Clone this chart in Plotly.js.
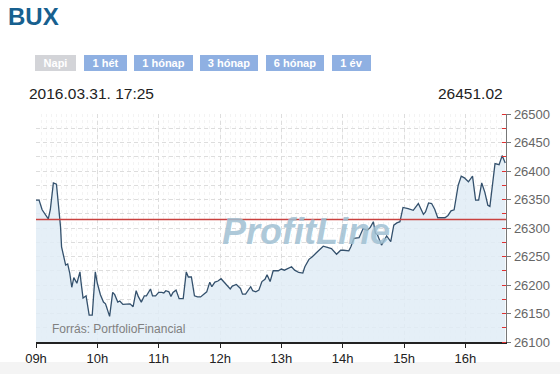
<!DOCTYPE html>
<html>
<head>
<meta charset="utf-8">
<script src="https://cdn.plot.ly/plotly-3.0.1.min.js"></script>
<style>html,body{margin:0;padding:0;background:#fff;}#chart{width:560px;height:374px;}</style>
</head>
<body>
<div id="chart"></div>
<script>
// ---- data ----
var chartDay = '2016-03-31';
var times = ['09:00','09:03','09:06','09:10','09:12','09:14','09:17','09:20','09:22','09:24','09:25','09:27','09:29','09:31','09:33','09:35','09:37','09:40','09:43','09:44','09:46','09:49','09:51','09:52','09:55','09:58',
'10:00','10:03','10:06','10:08','10:10','10:12','10:15','10:17','10:20','10:22','10:25','10:29','10:32','10:35','10:38','10:40','10:43','10:46','10:48','10:52','10:54','10:57',
'11:00','11:03','11:05','11:07','11:10','11:12','11:14','11:17','11:20','11:24','11:27','11:29','11:32','11:35','11:38','11:41','11:44','11:47','11:50','11:52','11:55','11:58',
'12:01','12:04','12:07','12:10','12:12','12:16','12:20','12:22','12:25','12:30','12:32','12:35','12:38','12:41','12:44','12:46','12:49','12:52','12:57',
'13:00','13:03','13:06','13:10','13:13','13:17','13:21','13:23','13:27','13:30','13:34','13:37','13:41','13:45','13:49','13:54','13:58',
'14:01','14:06','14:08','14:11','14:16','14:20','14:24','14:27','14:30','14:32','14:34','14:38','14:43','14:47','14:50','14:53','14:56','14:59',
'15:04','15:09','15:14','15:19','15:21','15:24','15:27','15:30','15:33','15:40','15:43','15:46','15:49','15:53','15:56','15:59',
'16:03','16:07','16:10','16:13','16:16','16:19','16:22','16:24','16:29','16:33','16:36','16:39'];
var values = [26349,26349,26332,26320,26316,26332,26379,26377,26343,26302,26267,26249,26235,26237,26221,26196,26213,26203,26223,26206,26177,26181,26161,26147,26147,26223,
26203,26183,26170,26167,26156,26145,26187,26183,26170,26172,26166,26166,26167,26162,26190,26180,26170,26181,26181,26193,26181,26181,
26187,26187,26186,26190,26188,26180,26187,26191,26176,26176,26223,26214,26214,26181,26179,26179,26183,26188,26205,26197,26205,26207,
26211,26205,26199,26193,26198,26201,26194,26184,26184,26197,26190,26188,26191,26206,26210,26218,26206,26225,26225,
26228,26226,26228,26232,26226,26222,26221,26232,26245,26249,26256,26261,26268,26266,26264,26254,26261,
26261,26260,26267,26282,26283,26299,26296,26301,26311,26291,26288,26270,26286,26276,26305,26309,26311,26336,
26334,26331,26343,26324,26328,26344,26343,26333,26318,26318,26322,26330,26332,26375,26391,26388,
26381,26391,26349,26349,26379,26363,26340,26338,26413,26411,26427,26414];
var prevClose = 26315;
var yTicks = [26100,26150,26200,26250,26300,26350,26400,26450,26500];
var yTickLabels = ['26100','26150','26200','26250','26300','26350','26400','26450','26500'];
var hourTicks = ['09:00','10:00','11:00','12:00','13:00','14:00','15:00','16:00'];
var hourLabels = ['09h','10h','11h','12h','13h','14h','15h','16h'];
var indexName = 'BUX';
var stampText = '2016.03.31. 17:25';
var lastValueText = '26451.02';
var buttons = ['Napi','1 hét','1 hónap','3 hónap','6 hónap','1 év'];
var sourceText = 'Forrás: PortfolioFinancial';
var watermark = 'ProfitLine';

// ---- layout helpers (pixel -> paper) ----
var M = {l:36, r:54, t:114, b:32};
var PW = 560 - M.l - M.r, PH = 374 - M.t - M.b;
function px(x){ return (x - M.l) / PW; }
function py(y){ return (374 - M.b - y) / PH; }

var xs = times.map(function(t){ return chartDay + ' ' + t; });

var trace = {
  x: xs, y: values, type: 'scatter', mode: 'lines',
  line: {color: '#34516d', width: 1.3},
  fill: 'tozeroy', fillcolor: 'rgba(225,236,246,0.85)',
  hoverinfo: 'skip'
};

var btnBoxes = [[35,76],[84,127],[134,193],[200,258],[266,324],[332,371]];
var annotations = [
  {xref:'paper', yref:'paper', x:px(6), y:py(16), xanchor:'left', yanchor:'middle', showarrow:false,
   text:'<b>'+indexName+'</b>', font:{family:'Liberation Sans, Arial', size:24, color:'#17608f'}},
  {xref:'paper', yref:'paper', x:px(27), y:py(93), xanchor:'left', yanchor:'middle', showarrow:false,
   text:stampText, font:{family:'Liberation Sans, Arial', size:15.5, color:'#222'}},
  {xref:'paper', yref:'paper', x:px(505), y:py(93), xanchor:'right', yanchor:'middle', showarrow:false,
   text:lastValueText, font:{family:'Liberation Sans, Arial', size:15.5, color:'#222'}},
  {xref:'paper', yref:'paper', x:px(306), y:py(231), xanchor:'center', yanchor:'middle', showarrow:false,
   text:'<b><i>'+watermark+'</i></b>', font:{family:'Liberation Sans, Arial', size:36, color:'rgba(160,192,210,0.85)'}},
  {xref:'paper', yref:'paper', x:px(50), y:py(328.5), xanchor:'left', yanchor:'middle', showarrow:false,
   text:sourceText, font:{family:'Liberation Sans, Arial', size:12, color:'#808080'}}
];
buttons.forEach(function(b, i){
  var x0 = btnBoxes[i][0], x1 = btnBoxes[i][1];
  annotations.push({xref:'paper', yref:'paper', x:px((x0+x1)/2), y:py(63.5), xanchor:'center', yanchor:'middle',
    showarrow:false, width:(x1-x0), height:16, borderpad:0, borderwidth:0,
    bgcolor: i===0 ? '#d3d4d8' : '#8fb0e2',
    text:'<b>'+b+'</b>', font:{family:'Liberation Sans, Arial', size:11, color:'#ffffff'}});
});

var shapes = [
  {type:'rect', xref:'paper', yref:'paper', x0:px(0), x1:px(560), y0:py(362), y1:py(374), fillcolor:'#f4f4f4', line:{width:0}, layer:'below'},
  {type:'line', xref:'paper', yref:'y', x0:0, x1:1, y0:prevClose, y1:prevClose, line:{color:'#c9413f', width:1.4}, layer:'above'}
];

var layout = {
  width:560, height:374, margin:M, showlegend:false,
  paper_bgcolor:'#ffffff', plot_bgcolor:'#ffffff',
  font:{family:'Liberation Sans, Arial', size:13, color:'#222'},
  xaxis:{type:'date', range:[chartDay+' 09:00', chartDay+' 16:39:45'],
    tickmode:'array', tickvals:hourTicks.map(function(t){return chartDay+' '+t;}), ticktext:hourLabels,
    showgrid:true, gridcolor:'#dddddd', griddash:'4px,3px', gridwidth:1,
    showline:true, linecolor:'#222', linewidth:1.5, ticks:'outside', ticklen:4, tickcolor:'#222',
    tickfont:{size:13, color:'#222'}, zeroline:false, fixedrange:true,
    minor:{dtick:300000, tick0:chartDay+' 09:00', showgrid:true, gridcolor:'#f3f3f3', griddash:'3px,3px', ticks:''}},
  yaxis:{side:'right', range:[26100,26500], tickmode:'array', tickvals:yTicks, ticktext:yTickLabels,
    showgrid:true, gridcolor:'#dddddd', griddash:'4px,3px', gridwidth:1,
    showline:true, linecolor:'#777', linewidth:1.3, ticks:'outside', ticklen:4, tickcolor:'#777',
    tickfont:{size:13, color:'#666'}, zeroline:false, fixedrange:true,
    minor:{dtick:25, tick0:26100, showgrid:true, gridcolor:'#dddddd', griddash:'4px,3px', ticks:'inside', ticklen:4, tickcolor:'#e03030'}},
  shapes:shapes, annotations:annotations
};

Plotly.newPlot('chart', [trace], layout, {staticPlot:true, displayModeBar:false});
</script>
</body>
</html>
